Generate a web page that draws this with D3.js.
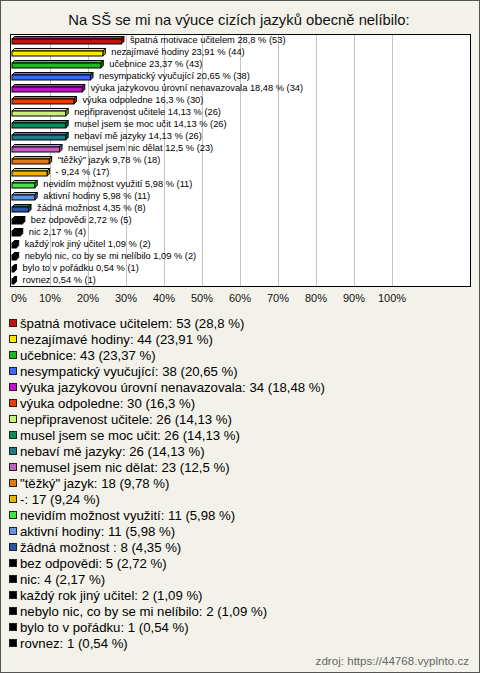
<!DOCTYPE html>
<html>
<head>
<meta charset="utf-8">
<script src="https://cdn.jsdelivr.net/npm/d3@7"></script>
<style>
  body { margin: 0; background: #fff; }
  svg text { font-family: Arial, "Liberation Sans", sans-serif; }
</style>
</head>
<body>
<div class="chart"></div>
<script>
const categories = [
  "špatná motivace učitelem", "nezajímavé hodiny", "učebnice",
  "nesympatický vyučující", "výuka jazykovou úrovní nenavazovala",
  "výuka odpoledne", "nepřipravenost učitele", "musel jsem se moc učit",
  "nebaví mě jazyky", "nemusel jsem nic dělat", "\"těžký\" jazyk", "-",
  "nevidím možnost využití", "aktivní hodiny", "žádná možnost ",
  "bez odpovědi", "nic", "každý rok jiný učitel",
  "nebylo nic, co by se mi nelíbilo", "bylo to v pořádku", "rovnez"
];
const counts = [53, 44, 43, 38, 34, 30, 26, 26, 26, 23, 18, 17, 11, 11, 8, 5, 4, 2, 2, 1, 1];
const percents = ["28,8", "23,91", "23,37", "20,65", "18,48", "16,3", "14,13", "14,13",
  "14,13", "12,5", "9,78", "9,24", "5,98", "5,98", "4,35", "2,72", "2,17", "1,09",
  "1,09", "0,54", "0,54"];
const colors = ["#c0150e", "#ffe600", "#1eb81e", "#3d6cf0", "#c010cc", "#e0400e",
  "#c8f07a", "#108a5a", "#1f7a8a", "#c060c0", "#e07a18", "#e8b412", "#44e044",
  "#6494e0", "#2a52a8", "#000", "#000", "#000", "#000", "#000", "#000"];
const xTicks = [0, 10, 20, 30, 40, 50, 60, 70, 80, 90, 100];
const title = "Na SŠ se mi na výuce cizích jazyků obecně nelíbilo:";
const source = "zdroj: https://44768.vyplnto.cz";

const data = categories.map((c, i) => ({
  name: c, count: counts[i], pctText: percents[i],
  pct: +percents[i].replace(",", "."), color: colors[i]
}));

const svgWidth = 480;
const svgHeight = 673;
const svg = d3.select(".chart").append("svg")
  .attr("width", svgWidth).attr("height", svgHeight);

svg.append("rect")
  .attr("x", 0.5).attr("y", 0.5)
  .attr("width", svgWidth - 1).attr("height", svgHeight - 1)
  .attr("fill", "#f3f2ea").attr("stroke", "#555");

svg.append("text")
  .attr("x", 239).attr("y", 25)
  .attr("text-anchor", "middle")
  .attr("font-size", 14.8)
  .attr("fill", "#111")
  .text(title);

const plot = { left: 10.5, top: 34.5, right: 470.5, bottom: 286.5 };

const xScale = d3.scaleLinear().domain([0, 100]).range([12, 392]);
const yScale = d3.scaleBand().domain(categories).range([35, 287]);

svg.append("rect")
  .attr("x", plot.left).attr("y", plot.top)
  .attr("width", plot.right - plot.left).attr("height", plot.bottom - plot.top)
  .attr("fill", "#fff");

svg.append("g").selectAll("line")
  .data(xTicks.filter((t) => t > 0))
  .enter().append("line")
  .attr("x1", (d) => Math.round(xScale(d)) + 0.5)
  .attr("x2", (d) => Math.round(xScale(d)) + 0.5)
  .attr("y1", plot.top).attr("y2", plot.bottom)
  .attr("stroke", "#c4c4c4");

svg.append("rect")
  .attr("x", plot.left).attr("y", plot.top)
  .attr("width", plot.right - plot.left).attr("height", plot.bottom - plot.top)
  .attr("fill", "none").attr("stroke", "#000");

// x axis labels
svg.append("g").selectAll("text")
  .data(xTicks)
  .enter().append("text")
  .attr("x", (d) => (d === 0 ? 11 : xScale(d)))
  .attr("y", 302)
  .attr("text-anchor", (d) => (d === 0 ? "start" : "middle"))
  .attr("font-size", 11)
  .attr("fill", "#111")
  .text((d) => d + "%");

// 3D bars
const depth = 2.5;
const barH = 5;
const bars = svg.append("g").selectAll("g")
  .data(data)
  .enter().append("g");

const x0 = xScale(0);
const yTop = (d) => yScale(d.name) + yScale.bandwidth() / 2 - 2;

bars.append("path")
  .attr("d", (d) => {
    const x1 = xScale(d.pct), y = yTop(d);
    return `M${x0},${y}L${x0 + depth},${y - depth}L${x1 + depth},${y - depth}L${x1},${y}Z`;
  })
  .attr("fill", (d) => d3.color(d.color).brighter(0.6))
  .attr("stroke", "#000").attr("stroke-width", 1);

bars.append("path")
  .attr("d", (d) => {
    const x1 = xScale(d.pct), y = yTop(d);
    return `M${x1},${y}L${x1 + depth},${y - depth}L${x1 + depth},${y + barH - depth}L${x1},${y + barH}Z`;
  })
  .attr("fill", (d) => d3.color(d.color).darker(0.8))
  .attr("stroke", "#000").attr("stroke-width", 1);

bars.append("rect")
  .attr("x", x0)
  .attr("y", (d) => yTop(d))
  .attr("width", (d) => xScale(d.pct) - x0)
  .attr("height", barH)
  .attr("fill", (d) => d.color)
  .attr("stroke", "#000").attr("stroke-width", 1);

bars.append("text")
  .attr("x", (d) => xScale(d.pct) + depth + 6)
  .attr("y", (d) => yTop(d) + 4)
  .attr("font-size", 9.3)
  .attr("fill", "#000")
  .text((d) => `${d.name} ${d.pctText} % (${d.count})`);

// legend
const legendScale = d3.scaleBand().domain(categories).range([315, 651]);
const legend = svg.append("g").selectAll("g")
  .data(data)
  .enter().append("g")
  .attr("transform", (d) => `translate(0, ${legendScale(d.name) + legendScale.bandwidth() / 2})`);

legend.append("rect")
  .attr("x", 9.5).attr("y", -3.5)
  .attr("width", 7).attr("height", 7)
  .attr("fill", (d) => d.color)
  .attr("stroke", "#222");

legend.append("text")
  .attr("x", 20).attr("y", 4.6)
  .attr("font-size", 13.2)
  .attr("fill", "#000")
  .text((d) => `${d.name}: ${d.count} (${d.pctText} %)`);

svg.append("text")
  .attr("x", 469).attr("y", 665)
  .attr("text-anchor", "end")
  .attr("font-size", 11.6)
  .attr("fill", "#666")
  .text(source);
</script>
</body>
</html>
